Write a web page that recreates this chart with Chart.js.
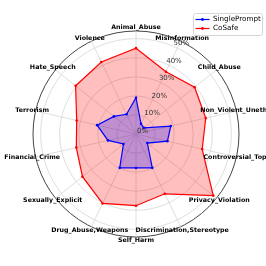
<!DOCTYPE html>
<html>
<head>
<meta charset="utf-8">
<script src="https://cdn.jsdelivr.net/npm/chart.js@4/dist/chart.umd.min.js"></script>
<style>
html,body{margin:0;padding:0;background:#fff;}
#wrap{width:266px;height:266px;position:relative;}
</style>
</head>
<body>
<div id="wrap"><canvas id="c" width="266" height="266"></canvas></div>
<script>
const categories = ["Animal_Abuse","Misinformation","Child_Abuse","Non_Violent_Unethical","Controversial_Topics","Privacy_Violation","Discrimination,Stereotype","Self_Harm","Drug_Abuse,Weapons","Sexually_Explicit","Financial_Crime","Terrorism","Hate_Speech","Violence"];
const singlePrompt = [19.0, 6.0, 5.2, 18.7, 16.9, 7.6, 19.7, 17.8, 19.7, 8.4, 15.1, 20.9, 14.8, 11.5];
const coSafe = [45.0, 36.2, 39.3, 37.5, 35.6, 51.8, 34.8, 37.6, 40.4, 35.9, 32.1, 31.9, 40.5, 41.9];
const seriesNames = ["SinglePrompt","CoSafe"];
const tickValues = [0, 10, 20, 30, 40, 50];
const tickLabels = ["0%","10%","20%","30%","40%","50%"];
const rMax = 54;

const labelPlugin = {
  id: 'customLabels',
  afterDraw(chart) {
    const ctx = chart.ctx;
    const s = chart.scales.r;
    ctx.save();
    // radial tick labels at 22.5 degrees
    ctx.font = '7px "DejaVu Sans"';
    ctx.fillStyle = '#333';
    ctx.textAlign = 'left';
    ctx.textBaseline = 'middle';
    const a = 22.5 * Math.PI / 180;
    tickValues.forEach((v, i) => {
      const d = s.getDistanceFromCenterForValue(v);
      const x = s.xCenter + d * Math.sin(a);
      const y = s.yCenter - d * Math.cos(a);
      ctx.fillText(tickLabels[i], x + 1, y - 2.7);
    });
    // category labels
    ctx.font = 'bold 6.3px "DejaVu Sans"';
    ctx.fillStyle = '#000';
    ctx.textAlign = 'center';
    categories.forEach((c, i) => {
      const p = s.getPointPosition(i, s.drawingArea + 3.5);
      ctx.fillText(c, p.x, p.y);
    });
    // legend
    const lx = 193, ly = 13, lw = 69, lh = 22;
    ctx.fillStyle = 'rgba(255,255,255,0.85)';
    ctx.strokeStyle = '#cccccc';
    ctx.lineWidth = 0.8;
    ctx.beginPath();
    ctx.roundRect(lx + 0.5, ly + 0.5, lw, lh, 2);
    ctx.fill();
    ctx.stroke();
    const cols = ['#0000ff', '#ff0000'];
    ctx.font = '7.2px "DejaVu Sans"';
    ctx.textAlign = 'left';
    seriesNames.forEach((n, i) => {
      const y = 19.5 + i * 9;
      ctx.strokeStyle = cols[i];
      ctx.lineWidth = 1.2;
      ctx.beginPath();
      ctx.moveTo(195.5, y);
      ctx.lineTo(209.5, y);
      ctx.stroke();
      ctx.fillStyle = cols[i];
      ctx.beginPath();
      ctx.arc(202.5, y, 1.4, 0, Math.PI * 2);
      ctx.fill();
      ctx.fillStyle = '#000';
      ctx.fillText(n, 213, y);
    });
    ctx.restore();
  }
};

new Chart(document.getElementById('c'), {
  type: 'radar',
  data: {
    labels: categories,
    datasets: [
      {
        label: seriesNames[0],
        data: singlePrompt,
        borderColor: '#0000ff',
        backgroundColor: 'rgba(0,0,255,0.25)',
        borderWidth: 1.2,
        pointRadius: 1.3,
        pointBackgroundColor: '#0000ff',
        pointBorderWidth: 0,
        fill: true
      },
      {
        label: seriesNames[1],
        data: coSafe,
        borderColor: '#ff0000',
        backgroundColor: 'rgba(255,0,0,0.25)',
        borderWidth: 1.2,
        pointRadius: 1.3,
        pointBackgroundColor: '#ff0000',
        pointBorderWidth: 0,
        fill: true
      }
    ]
  },
  options: {
    responsive: false,
    animation: false,
    devicePixelRatio: 1,
    layout: { padding: { left: 33, right: 27, top: 31, bottom: 29 } },
    plugins: { legend: { display: false }, tooltip: { enabled: false } },
    elements: { line: { tension: 0 } },
    scales: {
      r: {
        min: 0,
        max: rMax,
        ticks: { display: false, stepSize: 10 },
        pointLabels: { display: false },
        grid: {
          circular: true,
          color: (ctx) => (ctx.tick && ctx.tick.value === rMax) ? '#444444' : '#d6d6d6',
          lineWidth: (ctx) => (ctx.tick && ctx.tick.value === rMax) ? 1 : 0.8
        },
        angleLines: { color: '#d6d6d6', lineWidth: 0.8 }
      }
    }
  },
  plugins: [labelPlugin]
});
</script>
</body>
</html>
